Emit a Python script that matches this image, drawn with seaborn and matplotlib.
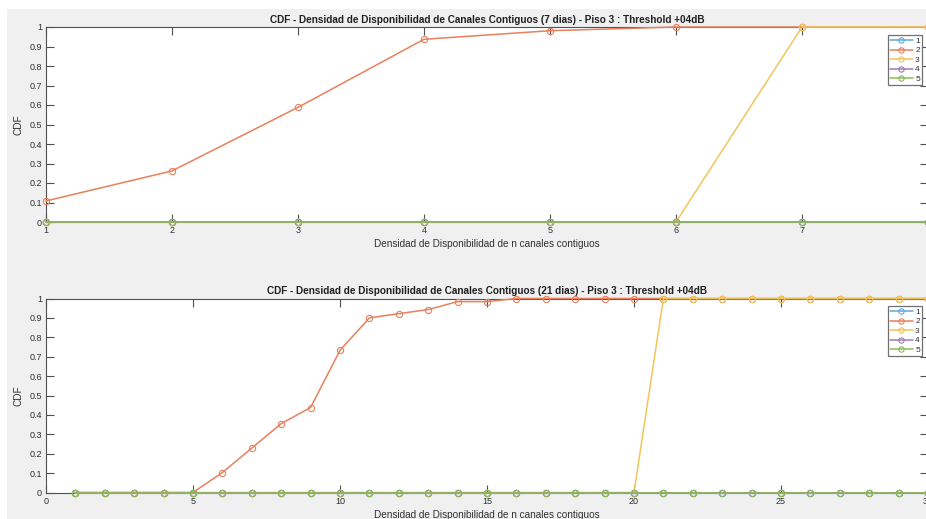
import matplotlib

matplotlib.use("Agg")

import matplotlib.pyplot as plt
import numpy as np
import pandas as pd
import seaborn as sns
from matplotlib.patches import Rectangle

# ---- data ----
SERIES = ["1", "2", "3", "4", "5"]
COLORS = ["#5FA8DA", "#E8805C", "#F2C55C", "#A27BB4", "#8CBB57"]

x_7d = [1, 2, 3, 4, 5, 6, 7, 8]
s1_7d = [0, 0, 0, 0, 0, 0, 0, 0]
s2_7d = [0.108, 0.262, 0.588, 0.937, 0.981, 1, 1, 1]
s3_7d = [0, 0, 0, 0, 0, 0, 1, 1]
s4_7d = [0, 0, 0, 0, 0, 0, 0, 0]
s5_7d = [0, 0, 0, 0, 0, 0, 0, 0]

x_21d = list(range(1, 31))
s1_21d = [0] * 30
s2_21d = [0, 0, 0, 0, 0, 0.103, 0.229, 0.355, 0.438, 0.733,
          0.900, 0.922, 0.943, 0.984, 0.984] + [1] * 15
s3_21d = [0] * 20 + [1] * 10
s4_21d = [0] * 30
s5_21d = [0] * 30

yticks = [0, 0.1, 0.2, 0.3, 0.4, 0.5, 0.6, 0.7, 0.8, 0.9, 1]
ytick_labels = ["0", "0.1", "0.2", "0.3", "0.4", "0.5", "0.6", "0.7", "0.8", "0.9", "1"]
xticks_7d = [1, 2, 3, 4, 5, 6, 7, 8]
xticks_21d = [0, 5, 10, 15, 20, 25, 30]

TITLE_7D = "CDF - Densidad de Disponibilidad de Canales Contiguos (7 dias) - Piso 3 : Threshold +04dB"
TITLE_21D = "CDF - Densidad de Disponibilidad de Canales Contiguos (21 dias) - Piso 3 : Threshold +04dB"
XLABEL = "Densidad de Disponibilidad de n canales contiguos"
YLABEL = "CDF"

sns.set_style("ticks")
plt.rcParams["font.family"] = ["Liberation Sans", "DejaVu Sans"]
AX_COLOR = "#505050"

fig = plt.figure(figsize=(9.26, 5.19), dpi=100, facecolor="white")
# grey MATLAB figure area (the screenshot has a thin white strip top/left)
fig.patches.append(Rectangle((7 / 926, 0), 1, 1 - 9 / 519, transform=fig.transFigure,
                             facecolor="#F0F0F0", edgecolor="none", zorder=-10))


def draw_panel(ax, x, series, title, xlim, xticks):
    for name, color, y in zip(SERIES, COLORS, series):
        df = pd.DataFrame({"x": x, "y": y})
        sns.lineplot(data=df, x="x", y="y", ax=ax, color=color, label=name,
                     marker="o", markersize=4.5, markerfacecolor="none",
                     markeredgecolor=color, markeredgewidth=0.8, linewidth=1.1,
                     estimator=None, sort=False, clip_on=False, zorder=3)
    ax.set_facecolor("white")
    ax.set_xlim(*xlim)
    ax.set_ylim(0, 1)
    ax.set_xticks(xticks)
    ax.set_xticklabels([str(t) for t in xticks])
    ax.set_yticks(yticks)
    ax.set_yticklabels(ytick_labels)
    ax.tick_params(direction="in", length=5.5, width=0.8, color=AX_COLOR,
                   labelsize=6.5, labelcolor="#303030", top=True, right=True, pad=3)
    for sp in ax.spines.values():
        sp.set_color(AX_COLOR)
        sp.set_linewidth(0.8)
    ax.set_title(title, fontsize=7.2, fontweight="bold", color="#202020", pad=3)
    ax.set_xlabel(XLABEL, fontsize=7.2, color="#303030", labelpad=3)
    ax.set_ylabel(YLABEL, fontsize=7.2, color="#303030", labelpad=4)
    return ax


legend_kw = dict(loc="upper right", fontsize=6,
                 handlelength=2.8, handletextpad=0.25, labelspacing=0.2,
                 borderpad=0.25, borderaxespad=0, markerscale=0.85,
                 fancybox=False, framealpha=1, edgecolor="#707070")

ax1 = fig.add_axes([46 / 926, 1 - 222 / 519, 882 / 926, 195 / 519])
draw_panel(ax1, x_7d, [s1_7d, s2_7d, s3_7d, s4_7d, s5_7d], TITLE_7D, (1, 8), xticks_7d)
leg1 = ax1.legend(bbox_to_anchor=(922 / 926, 1 - 35 / 519),
                  bbox_transform=fig.transFigure, **legend_kw)

ax2 = fig.add_axes([46 / 926, 1 - 492.5 / 519, 882 / 926, 194 / 519])
draw_panel(ax2, x_21d, [s1_21d, s2_21d, s3_21d, s4_21d, s5_21d], TITLE_21D, (0, 30), xticks_21d)
leg2 = ax2.legend(bbox_to_anchor=(922 / 926, 1 - 306 / 519),
                  bbox_transform=fig.transFigure, **legend_kw)

for leg in (leg1, leg2):
    leg.get_frame().set_linewidth(0.9)
    for t in leg.get_texts():
        t.set_color("#303030")

fig.savefig("out.png", dpi=100, facecolor=fig.get_facecolor())
